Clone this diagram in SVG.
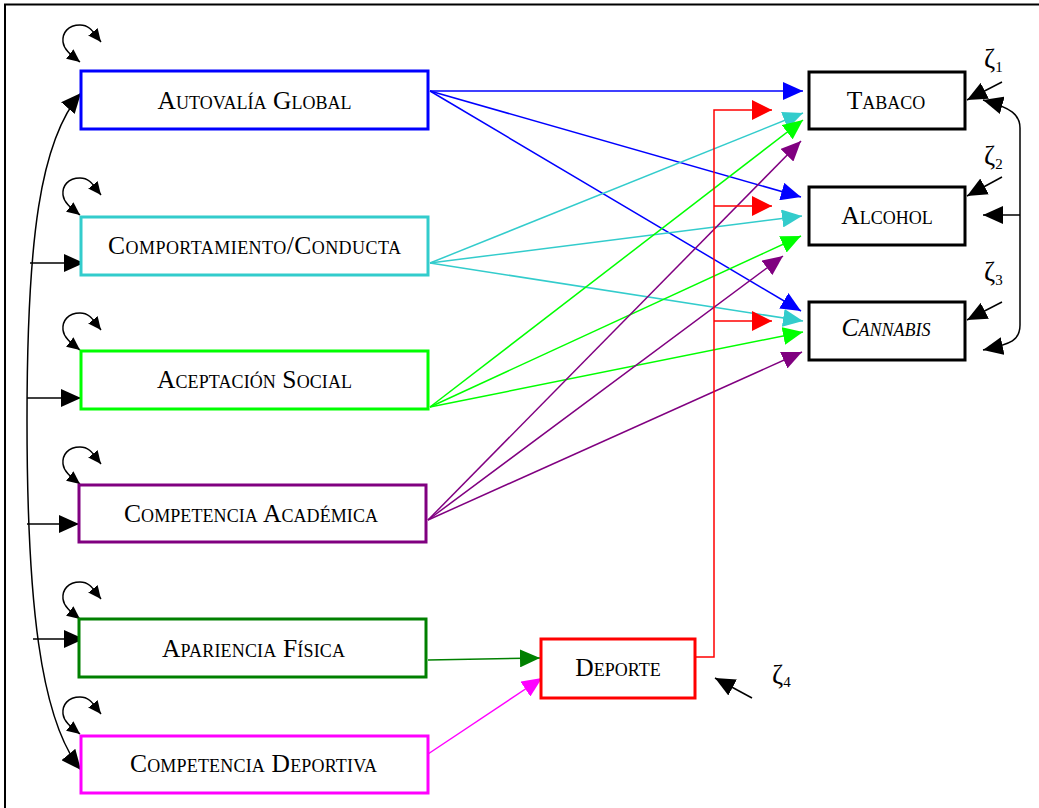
<svg xmlns="http://www.w3.org/2000/svg" width="1039" height="808" viewBox="0 0 1039 808">
  <style>
    .node rect { fill: #ffffff; stroke-width: 3; }
    .lbl { font-family: "Liberation Serif", "Times New Roman", serif; font-size: 25.5px; font-variant: small-caps; text-anchor: middle; fill: #000000; }
    .it { font-style: italic; }
    .zeta { font-family: "Liberation Serif", "Times New Roman", serif; font-size: 27px; fill: #000000; }
    .sub { font-size: 15px; }
    .c { fill: none; stroke-width: 1.5; }
    .k { stroke: #000000; }
    .bl { stroke: #0000ff; }
    .cy { stroke: #33cccc; }
    .li { stroke: #00ff00; }
    .pu { stroke: #800080; }
    .re { stroke: #ff0000; }
    .gr { stroke: #008000; }
    .ma { stroke: #ff00ff; }
  </style>
  <defs>
    <marker id="ah-k" viewBox="0 0 20 18" refX="20" refY="9" markerWidth="20" markerHeight="18" markerUnits="userSpaceOnUse" orient="auto-start-reverse"><path d="M0,0L20,9L0,18z" fill="#000000"/></marker>
    <marker id="ah-bl" viewBox="0 0 20 18" refX="20" refY="9" markerWidth="20" markerHeight="18" markerUnits="userSpaceOnUse" orient="auto"><path d="M0,0L20,9L0,18z" fill="#0000ff"/></marker>
    <marker id="ah-cy" viewBox="0 0 20 18" refX="20" refY="9" markerWidth="20" markerHeight="18" markerUnits="userSpaceOnUse" orient="auto"><path d="M0,0L20,9L0,18z" fill="#33cccc"/></marker>
    <marker id="ah-li" viewBox="0 0 20 18" refX="20" refY="9" markerWidth="20" markerHeight="18" markerUnits="userSpaceOnUse" orient="auto"><path d="M0,0L20,9L0,18z" fill="#00ff00"/></marker>
    <marker id="ah-pu" viewBox="0 0 20 18" refX="20" refY="9" markerWidth="20" markerHeight="18" markerUnits="userSpaceOnUse" orient="auto"><path d="M0,0L20,9L0,18z" fill="#800080"/></marker>
    <marker id="ah-re" viewBox="0 0 20 20" refX="20" refY="10" markerWidth="20" markerHeight="20" markerUnits="userSpaceOnUse" orient="auto"><path d="M0,0L20,10L0,20z" fill="#ff0000"/></marker>
    <marker id="ah-gr" viewBox="0 0 20 18" refX="20" refY="9" markerWidth="20" markerHeight="18" markerUnits="userSpaceOnUse" orient="auto"><path d="M0,0L20,9L0,18z" fill="#008000"/></marker>
    <marker id="ah-ma" viewBox="0 0 20 18" refX="20" refY="9" markerWidth="20" markerHeight="18" markerUnits="userSpaceOnUse" orient="auto"><path d="M0,0L20,9L0,18z" fill="#ff00ff"/></marker>
    <marker id="ah-s" viewBox="0 0 13 12" refX="13" refY="6" markerWidth="13" markerHeight="12" markerUnits="userSpaceOnUse" orient="auto-start-reverse"><path d="M0,0L13,6L0,12z" fill="#000000"/></marker>
    <!-- variance loop drawn above each exogenous box -->
    <path id="loop" d="M101 42 C93 32, 90 25, 80 25 C68 25, 62 33, 63 42 C64 50, 71 55, 80 62" fill="none" stroke="#000000" stroke-width="1.5" marker-start="url(#ah-s)" marker-end="url(#ah-s)"/>
  </defs>

  <rect x="0" y="0" width="1039" height="808" fill="#ffffff"/>
  <rect x="5" y="4.5" width="1060" height="830" fill="none" stroke="#000000" stroke-width="2"/>

  <g id="connectors">
    <!-- variance loops -->
    <use href="#loop"/>
    <use href="#loop" transform="translate(0,153)"/>
    <use href="#loop" transform="translate(0,288)"/>
    <use href="#loop" transform="translate(0,422)"/>
    <use href="#loop" transform="translate(0,557)"/>
    <use href="#loop" transform="translate(0,672)"/>

    <!-- covariances among the predictors -->
    <path class="c k" d="M81 93 C40 140, 27 240, 27 420 C27 600, 40 720, 81 770" marker-start="url(#ah-k)" marker-end="url(#ah-k)"/>
    <path class="c k" d="M30 263 H84" marker-end="url(#ah-k)"/>
    <path class="c k" d="M27 398 H81" marker-end="url(#ah-k)"/>
    <path class="c k" d="M27 524 H79" marker-end="url(#ah-k)"/>
    <path class="c k" d="M33 639 H84" marker-end="url(#ah-k)"/>

    <!-- Autovalía global -->
    <path class="c bl" d="M430 91 L803 91" marker-end="url(#ah-bl)"/>
    <path class="c bl" d="M430 91 L801 197" marker-end="url(#ah-bl)"/>
    <path class="c bl" d="M430 91 L801 311" marker-end="url(#ah-bl)"/>

    <!-- Comportamiento/conducta -->
    <path class="c cy" d="M430 263 L803 113" marker-end="url(#ah-cy)"/>
    <path class="c cy" d="M430 263 L802 216" marker-end="url(#ah-cy)"/>
    <path class="c cy" d="M430 263 L803 321" marker-end="url(#ah-cy)"/>

    <!-- Aceptación social -->
    <path class="c li" d="M430 407 L803 120" marker-end="url(#ah-li)"/>
    <path class="c li" d="M430 407 L801 236" marker-end="url(#ah-li)"/>
    <path class="c li" d="M430 407 L803 332" marker-end="url(#ah-li)"/>

    <!-- Competencia académica -->
    <path class="c pu" d="M428 520 L801 141" marker-end="url(#ah-pu)"/>
    <path class="c pu" d="M428 520 L783 256" marker-end="url(#ah-pu)"/>
    <path class="c pu" d="M428 520 L802 352" marker-end="url(#ah-pu)"/>

    <!-- Deporte to the three outcomes -->
    <path class="c re" d="M695 657 H714 V110 H772" marker-end="url(#ah-re)"/>
    <path class="c re" d="M714 206 H772" marker-end="url(#ah-re)"/>
    <path class="c re" d="M714 321 H772" marker-end="url(#ah-re)"/>

    <!-- predictors of Deporte -->
    <path class="c gr" d="M428 660 L540 658" marker-end="url(#ah-gr)"/>
    <path class="c ma" d="M428 754 L542 678" marker-end="url(#ah-ma)"/>

    <!-- disturbances -->
    <path class="c k" d="M1002 82 L967 100" marker-end="url(#ah-k)"/>
    <path class="c k" d="M1002 177 L967 196" marker-end="url(#ah-k)"/>
    <path class="c k" d="M1002 302 L967 320" marker-end="url(#ah-k)"/>
    <path class="c k" d="M752 698 L715 678" marker-end="url(#ah-k)"/>

    <!-- residual covariances among outcomes -->
    <path class="c k" d="M983 100 C1012 108, 1020 115, 1020 128 V325 C1020 340, 1012 344, 983 350" marker-start="url(#ah-k)" marker-end="url(#ah-k)"/>
    <path class="c k" d="M1020 215 H983" marker-end="url(#ah-k)"/>
  </g>

  <g id="zeta-labels">
    <text class="zeta" x="984" y="68">ζ<tspan class="sub" dy="4">1</tspan></text>
    <text class="zeta" x="984" y="165">ζ<tspan class="sub" dy="4">2</tspan></text>
    <text class="zeta" x="984" y="281">ζ<tspan class="sub" dy="4">3</tspan></text>
    <text class="zeta" x="772" y="684">ζ<tspan class="sub" dy="3">4</tspan></text>
  </g>

  <g id="autovalia" class="node">
    <rect x="81" y="71" width="347" height="58" stroke="#0000ff"/>
    <text class="lbl" x="254.5" y="109" textLength="194">Autovalía Global</text>
  </g>
  <g id="comportamiento" class="node">
    <rect x="81" y="217" width="347" height="58" stroke="#33cccc"/>
    <text class="lbl" x="254.5" y="254" textLength="293">Comportamiento/Conducta</text>
  </g>
  <g id="aceptacion" class="node">
    <rect x="81" y="351" width="347" height="58" stroke="#00ff00"/>
    <text class="lbl" x="254.5" y="388" textLength="195">Aceptación Social</text>
  </g>
  <g id="academica" class="node">
    <rect x="79" y="485" width="347" height="57" stroke="#800080"/>
    <text class="lbl" x="251" y="522" textLength="254">Competencia Académica</text>
  </g>
  <g id="apariencia" class="node">
    <rect x="79" y="619" width="347" height="58" stroke="#008000"/>
    <text class="lbl" x="253.5" y="657" textLength="183">Apariencia Física</text>
  </g>
  <g id="deportiva" class="node">
    <rect x="81" y="736" width="347" height="57" stroke="#ff00ff"/>
    <text class="lbl" x="253.5" y="772" textLength="247">Competencia Deportiva</text>
  </g>
  <g id="tabaco" class="node">
    <rect x="809" y="72" width="156" height="57" stroke="#000000"/>
    <text class="lbl" x="886" y="109">Tabaco</text>
  </g>
  <g id="alcohol" class="node">
    <rect x="809" y="187" width="156" height="58" stroke="#000000"/>
    <text class="lbl" x="887" y="224">Alcohol</text>
  </g>
  <g id="cannabis" class="node">
    <rect x="809" y="302" width="156" height="58" stroke="#000000"/>
    <text class="lbl it" x="886" y="336">Cannabis</text>
  </g>
  <g id="deporte" class="node">
    <rect x="541" y="639" width="154" height="59" stroke="#ff0000"/>
    <text class="lbl" x="618" y="676">Deporte</text>
  </g>
</svg>
